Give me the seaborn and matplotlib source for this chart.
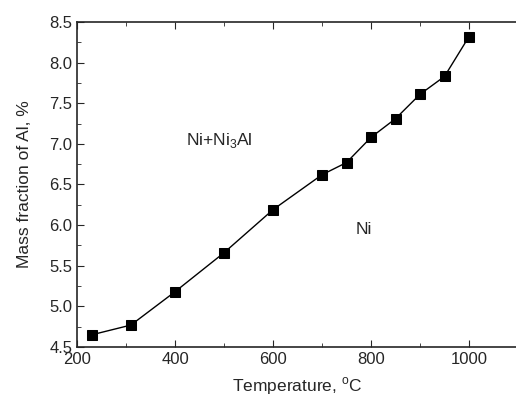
import seaborn as sns
import matplotlib.pyplot as plt
from matplotlib.ticker import MultipleLocator
import pandas as pd

temperature = [230, 310, 400, 500, 600, 700, 750, 800, 850, 900, 950, 1000]
mass_fraction = [4.65, 4.77, 5.18, 5.66, 6.19, 6.62, 6.77, 7.08, 7.31, 7.61, 7.83, 8.32]

df = pd.DataFrame({"T": temperature, "Al": mass_fraction})

sns.set_style("ticks")
plt.rcParams['font.family'] = ['Liberation Sans', 'DejaVu Sans']

fig = plt.figure(figsize=(5.16, 3.98), dpi=100)
ax = fig.add_axes([77/516, 51/398, 441/516, 325/398])

sns.lineplot(data=df, x="T", y="Al", ax=ax, color="black", lw=1.0,
             marker="s", markersize=7, markeredgecolor="black")

ax.set_xlim(200, 1100)
ax.set_ylim(4.5, 8.5)
ax.xaxis.set_major_locator(MultipleLocator(200))
ax.xaxis.set_minor_locator(MultipleLocator(100))
ax.yaxis.set_major_locator(MultipleLocator(0.5))
ax.yaxis.set_minor_locator(MultipleLocator(0.25))
ax.yaxis.set_major_formatter(plt.FormatStrFormatter("%.1f"))
ax.tick_params(which="both", direction="in", top=True, right=False, labelsize=12)
ax.tick_params(which="major", length=5)
ax.tick_params(which="minor", length=3)
for s in ax.spines.values():
    s.set_linewidth(1.2)

ax.set_xlabel("Temperature, $^{\\mathregular{o}}$C", fontsize=12.5, labelpad=6)
ax.set_ylabel("Mass fraction of Al, %", fontsize=12.5, labelpad=12)

ax.text(490, 7.04, "Ni+Ni$_\\mathregular{3}$Al", fontsize=12.5, ha="center", va="center")
ax.text(786, 5.95, "Ni", fontsize=12.5, ha="center", va="center")

fig.savefig("out.png", dpi=100)
